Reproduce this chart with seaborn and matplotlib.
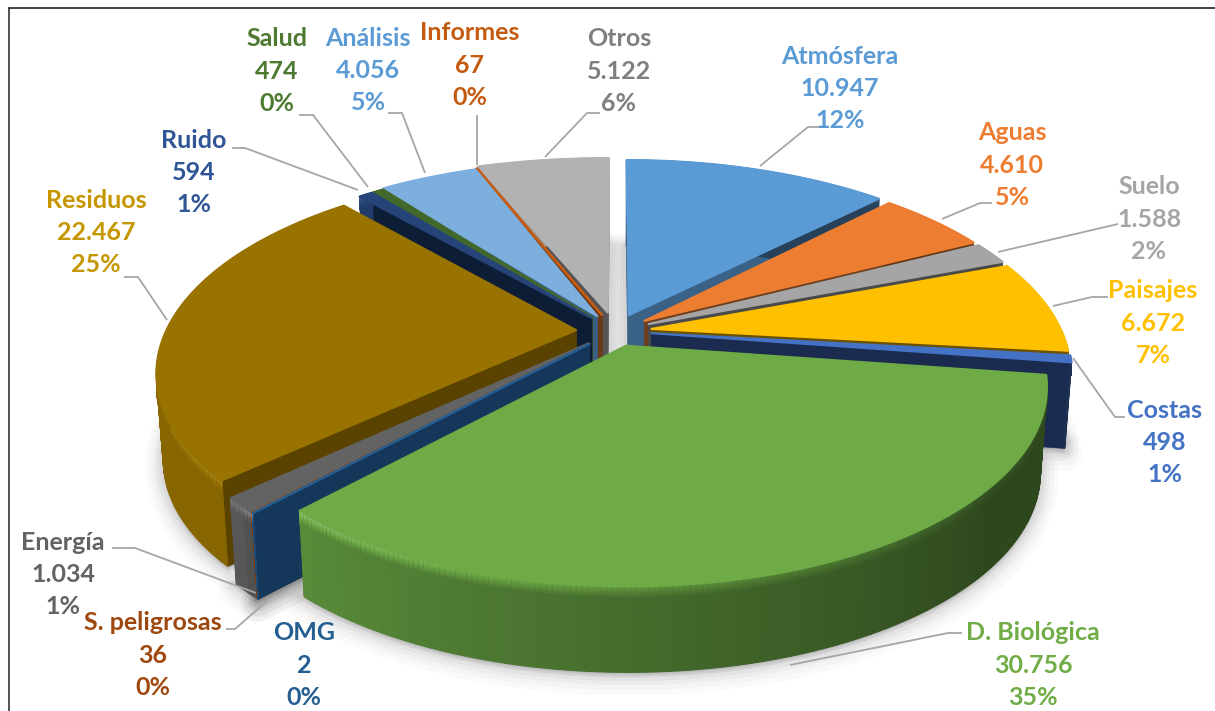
import numpy as np
import matplotlib
matplotlib.use("Agg")
import matplotlib.pyplot as plt
import matplotlib.colors as mcolors
import seaborn as sns

categories = ["Atmósfera", "Aguas", "Suelo", "Paisajes", "Costas", "D. Biológica", "OMG",
              "S. peligrosas", "Energía", "Residuos", "Ruido", "Salud", "Análisis", "Informes", "Otros"]
values = [10947, 4610, 1588, 6672, 498, 30756, 2, 36, 1034, 22467, 594, 474, 4056, 67, 5122]
value_labels = ["10.947", "4.610", "1.588", "6.672", "498", "30.756", "2", "36", "1.034", "22.467",
                "594", "474", "4.056", "67", "5.122"]
pct_labels = ["12%", "5%", "2%", "7%", "1%", "35%", "0%", "0%", "1%", "25%", "1%", "0%", "5%", "0%", "6%"]

top_colors = ["#5B9BD5", "#ED7D31", "#A5A5A5", "#FFC000", "#4472C4", "#6EAB47", "#255E91", "#9E480E",
              "#636363", "#997300", "#264478", "#43682B", "#7CAFDD", "#C55A11", "#B2B2B2"]
wall_colors = ["#3A6186", "#6E3F1F", "#4A4A4A", "#6B5200", "#1A2B4F", "#2C451B", "#14375A", "#6B3A18",
               "#606060", "#5A4300", "#0E1D36", "#2B4420", "#3A5F80", "#6B3A18", "#555555"]
text_colors = ["#5B9BD5", "#ED7D31", "#A5A5A5", "#FFC000", "#4472C4", "#70AD47", "#255E91", "#9E480E",
               "#636363", "#C59600", "#2F5597", "#4D7A30", "#5B9BD5", "#C55A11", "#7F7F7F"]

# geometry of the perspective disc (pixels)
X0, Y0, A, B, K = 615.0, 331.0, 410.0, 192.0, 0.20
H, SQUEEZE = 86.0, 0.985
explode = [0.09, 0.09, 0.09, 0.09, 0.09, 0.08, 0.09, 0.09, 0.09, 0.095, 0.09, 0.09, 0.09, 0.09, 0.10]
radius_x = [1.02, 1.0, 1.0, 1.0, 1.0, 0.99, 1, 1, 1, 1, 1, 1, 1.02, 1.05, 1.09]
radius_y = [1, 1, 1, 1, 1, 0.975, 1, 1, 1, 1, 1, 1, 1, 1, 1]

label_x = [840, 1012, 1149, 1153, 1165, 1033, 304, 153, 63, 96, 194, 277, 368, 470, 619]
label_y = [56, 133, 187, 291, 410, 633, 633, 623, 542, 200, 140, 39, 38, 33, 39]
leader_x = [[760, 808, 822], [942, 980, 992], [998, 1118], [1053, 1092, 1108], [1073, 1115, 1125],
            [790, 948, 962], [], [267, 235, 226], [256, 135, 112], [167, 138, 124], [358, 245, 232],
            [368, 313, 299], [425, 402, 388], [477, 477], [545, 587, 600]]
leader_y = [[166, 127, 127], [219, 203, 203], [252, 224], [306, 297, 297], [358, 417, 417],
            [665, 633, 633], [], [601, 629, 629], [593, 548, 548], [320, 277, 277], [190, 148, 148],
            [187, 115, 115], [173, 113, 113], [165, 115], [157, 113, 113]]

sns.set_theme(style="white")
plt.rcParams["font.family"] = ["Lato", "DejaVu Sans"]

fig = plt.figure(figsize=(12.15, 7.11), dpi=100)
ax = fig.add_axes([0, 0, 1, 1])
ax.set_xlim(0, 1215)
ax.set_ylim(711, 0)
ax.axis("off")


def project(u, v):
    w = 1 - K * v
    return X0 + A * u / w, Y0 + B * v / w


def lower(x, y):
    return X0 + (x - X0) * SQUEEZE, y + H


def shade(color, f):
    rgb = np.array(mcolors.to_rgb(color))
    return tuple(rgb * f if f <= 1 else rgb + (1 - rgb) * (f - 1))


def rim_factor(t):
    if t < 130:
        return 0.42
    if t < 225:
        return 0.42 + (t - 130) / 95 * 0.40
    return 0.88


def bevel_factor(t):
    if t < 130:
        return 0.5
    if t < 225:
        return 0.5 + (t - 130) / 95 * 0.75
    return 1.15


fracs = np.array(values) / np.sum(values)
edges = np.concatenate([[0], np.cumsum(fracs)]) * 360
slices = []
for i in range(len(values)):
    t0, t1 = edges[i], edges[i + 1]
    mid_deg = (t0 + t1) / 2
    mid = np.radians(mid_deg)
    du, dv = explode[i] * np.sin(mid), -explode[i] * np.cos(mid)
    th = np.radians(np.linspace(t0, t1, max(6, int((t1 - t0) * 1.5))))
    rx = np.sin(th) * radius_x[i] + du
    ry = -np.cos(th) * radius_y[i] + dv
    ox, oy = project(rx, ry)
    ax_, ay_ = project(np.array([du]), np.array([dv]))
    slices.append(dict(i=i, th=np.degrees(th), x=ox, y=oy, ax=ax_[0], ay=ay_[0],
                       depth=min(mid_deg, 360 - mid_deg)))

# soft shadow under the whole pie
for grow, alpha in zip([18, 14, 10, 7, 4], [0.02, 0.025, 0.03, 0.035, 0.04]):
    for s in slices:
        lx, ly = lower(s["x"], s["y"])
        px = np.r_[s["ax"], lx]
        py = np.r_[s["ay"] + H, ly]
        ax.fill(px, py + grow * 0.3, color="#000000", alpha=alpha, lw=grow * 1.4, zorder=1,
                joinstyle="round")

# slices painted from the back of the pie round both sides to the front
order = sorted(slices, key=lambda s: s["depth"])
BANDS = 6
z = 2
for s in order:
    i = s["i"]
    top, wall = top_colors[i], wall_colors[i]
    x, y, tx, ty = s["x"], s["y"], s["ax"], s["ay"]
    lx, ly = lower(x, y)
    alx, aly = lower(tx, ty)
    for k in (0, -1):
        ax.fill([tx, x[k], lx[k], alx], [ty, y[k], ly[k], aly], color=wall, lw=0.5, zorder=z)
        z += 1
    for j in range(len(x) - 1):
        t = (s["th"][j] + s["th"][j + 1]) / 2
        fr, fb = rim_factor(t), bevel_factor(t)
        ax.fill([x[j], x[j + 1], lx[j + 1], lx[j]], [y[j], y[j + 1], ly[j + 1], ly[j]],
                color=shade(top, fr), lw=0.8, zorder=z)
        for b in range(BANDS):
            y_a, y_b = b * 2.2, (b + 1) * 2.2 + 0.3
            f = fb + (fr - fb) * (b / (BANDS - 1))
            ax.fill([x[j], x[j + 1], x[j + 1], x[j]],
                    [y[j] + y_a, y[j + 1] + y_a, y[j + 1] + y_b, y[j] + y_b],
                    color=shade(top, f), lw=0.5, zorder=z)
    z += 1
    ax.fill(np.r_[tx, x], np.r_[ty, y], color=top, lw=1.5, zorder=z, joinstyle="round")
    z += 1

for lxs, lys in zip(leader_x, leader_y):
    if lxs:
        ax.plot(lxs, lys, color="#A6A6A6", lw=1.3, zorder=z, solid_capstyle="butt")
z += 1

for i, name in enumerate(categories):
    for n, txt in enumerate([name, value_labels[i], pct_labels[i]]):
        ax.text(label_x[i], label_y[i] + n * 32.3, txt, color=text_colors[i], fontsize=18,
                fontweight="bold", ha="center", va="center", zorder=z)

# chart frame
ax.plot([9, 9], [711, 8], color="#333333", lw=1.2, zorder=z)
ax.plot([9, 1215], [8, 8], color="#222222", lw=1.2, zorder=z)

fig.savefig("out.png", dpi=100, facecolor="white")
